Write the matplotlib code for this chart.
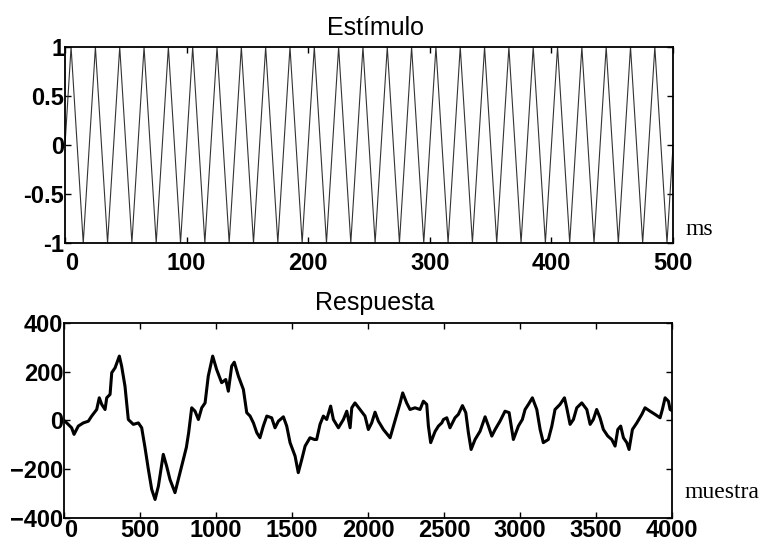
import matplotlib
matplotlib.use('Agg')
import matplotlib.pyplot as plt

plt.rcParams['font.family'] = ['Liberation Sans', 'DejaVu Sans']

# stimulus: peaks and troughs of the 50 Hz tone (ms, amplitude)
stim_ms = [0, 5, 15, 25, 35, 45, 55, 65, 75, 85, 95, 105, 115, 125, 135,
           145, 155, 165, 175, 185, 195, 205, 215, 225, 235, 245, 255, 265,
           275, 285, 295, 305, 315, 325, 335, 345, 355, 365, 375, 385, 395,
           405, 415, 425, 435, 445, 455, 465, 475, 485, 495, 500]
stim_val = [0, 1, -1, 1, -1, 1, -1, 1, -1, 1, -1, 1, -1, 1, -1,
            1, -1, 1, -1, 1, -1, 1, -1, 1, -1, 1, -1, 1,
            -1, 1, -1, 1, -1, 1, -1, 1, -1, 1, -1, 1, -1,
            1, -1, 1, -1, 1, -1, 1, -1, 1, -1, 0]

# response (sample index, value)
resp_n = [0, 18, 50, 66, 94, 127, 160, 182, 215, 232, 248, 270, 281, 303, 314,
          336, 364, 379, 401, 423, 456, 489, 511, 533, 555, 577, 599, 621, 653,
          675, 697, 730, 752, 785, 805, 820, 840, 862, 884, 906, 928, 949, 978,
          1004, 1037, 1064, 1081, 1103, 1120, 1147, 1180, 1202, 1224, 1246,
          1268, 1289, 1311, 1334, 1366, 1388, 1410, 1443, 1465, 1487, 1520,
          1541, 1564, 1586, 1618, 1647, 1662, 1684, 1706, 1728, 1754, 1772,
          1805, 1838, 1860, 1882, 1893, 1914, 1947, 1980, 2002, 2024, 2046,
          2068, 2101, 2145, 2167, 2189, 2211, 2228, 2254, 2276, 2309, 2342,
          2364, 2386, 2397, 2412, 2441, 2463, 2485, 2496, 2518, 2539, 2572,
          2594, 2621, 2643, 2660, 2678, 2704, 2737, 2770, 2792, 2814, 2836,
          2868, 2901, 2928, 2956, 2989, 3015, 3033, 3055, 3081, 3110, 3132,
          3153, 3186, 3209, 3230, 3263, 3292, 3307, 3329, 3351, 3373, 3406,
          3439, 3461, 3482, 3504, 3526, 3548, 3577, 3603, 3625, 3643, 3662,
          3680, 3702, 3717, 3739, 3768, 3801, 3822, 3855, 3888, 3921, 3936,
          3954, 3976, 3987, 4000]
resp_val = [0, -10, -30, -57, -23, -10, -3, 18, 45, 93, 66, 45, 93, 107, 196,
            216, 264, 223, 141, 4, -16, -10, -30, -112, -201, -283, -324, -269, -139,
            -187, -242, -296, -242, -160, -110, -50, 52, 38, 4, 52, 72, 182, 264,
            209, 155, 168, 120, 223, 239, 182, 127, 32, 18, -10,
            -50, -71, -23, 18, 11, -30, -3, 15, -23, -91, -146,
            -214, -160, -105, -71, -78, -78, -16, 18, 4, 59, 4,
            -30, 4, 38, -30, 52, 72, 45, 18, -37, -10, 34,
            -3, -37, -71, -23, 25, 72, 113, 72, 45, 52, 45,
            79, 66, -23, -91, -45, -23, -10, 4, 11, -30, 11,
            25, 61, 32, -50, -119, -78, -44, 15, -23, -64, -37,
            -3, 38, 32, -78, -23, 4, 45, 66, 93, 45, -37,
            -91, -78, -23, 45, 66, 93, 52, -16, 4, 52, 72,
            45, -16, 4, 45, 11, -37, -64, -78, -105, -37, -23,
            -71, -91, -119, -37, -10, 25, 52, 38, 25, 11, 45,
            93, 79, 45, 40]


def style_axes(ax, xpad):
    ax.tick_params(direction='in', top=True, right=True, length=4, width=1,
                   labelsize=17, pad=0.5)
    ax.tick_params(axis='x', pad=xpad)
    for lab in ax.get_xticklabels() + ax.get_yticklabels():
        lab.set_fontweight('bold')
    # first x label sits just right of the corner, as in the original
    ax.get_xticklabels()[0].set_horizontalalignment('left')
    for sp in ax.spines.values():
        sp.set_linewidth(1.3)


fig = plt.figure(figsize=(7.62, 5.51), dpi=100)

ax1 = fig.add_axes([0.0853, 0.559, 0.798, 0.3557])
ax1.plot(stim_ms, stim_val, color='#333333', lw=0.8)
ax1.set_xlim(0, 500)
ax1.set_ylim(-1, 1)
ax1.set_xticks([0, 100, 200, 300, 400, 500])
ax1.set_yticks([-1, -0.5, 0, 0.5, 1])
ax1.set_yticklabels(['-1', '-0.5', '0', '0.5', '1'])
style_axes(ax1, 6.5)
ax1.set_title('Estímulo', fontsize=18, pad=9, x=0.511)
ax1.text(1.021, 0.07, 'ms', transform=ax1.transAxes, fontsize=17,
         family='Liberation Serif', va='center', ha='left')

ax2 = fig.add_axes([0.084, 0.0599, 0.798, 0.354])
ax2.plot(resp_n, resp_val, color='black', lw=2.2)
ax2.set_xlim(0, 4000)
ax2.set_ylim(-400, 400)
ax2.set_xticks([0, 500, 1000, 1500, 2000, 2500, 3000, 3500, 4000])
ax2.set_yticks([-400, -200, 0, 200, 400])
style_axes(ax2, 0.5)
ax2.set_title('Respuesta', fontsize=18, pad=9, x=0.511)
ax2.text(1.021, 0.133, 'muestra', transform=ax2.transAxes, fontsize=17,
         family='Liberation Serif', va='center', ha='left')

fig.savefig('out.png', dpi=100)
